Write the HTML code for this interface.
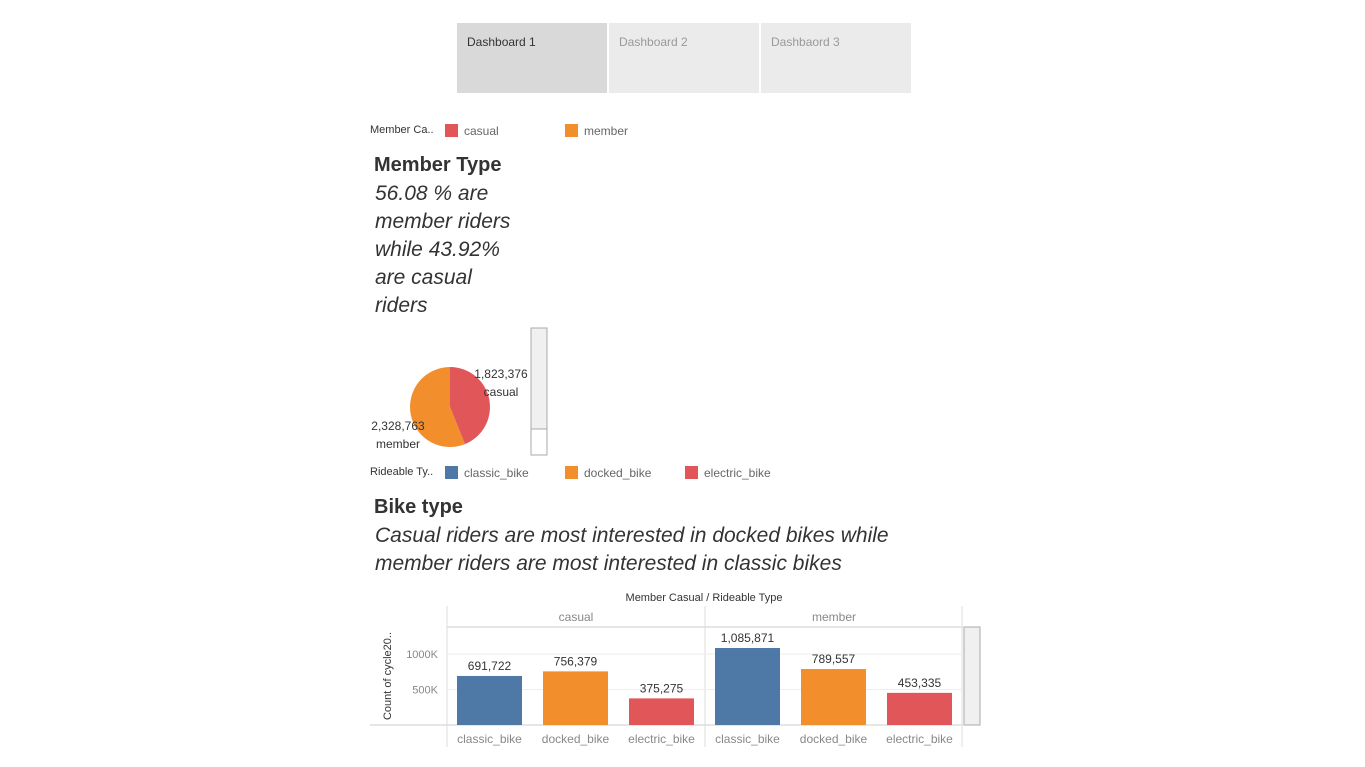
<!DOCTYPE html>
<html><head><meta charset="utf-8"><style>
body{margin:0;width:1365px;height:767px;background:#fff;font-family:"Liberation Sans",sans-serif;position:relative;overflow:hidden}
.a{position:absolute;white-space:nowrap}
.tab{position:absolute;top:23px;width:150px;height:70px;background:#ebebeb;color:#999;font-size:12px;box-sizing:border-box;padding:12px 10px}
.sw{position:absolute;width:13px;height:13px}
.lg{font-size:12px;color:#666}
.it{font-style:italic;font-size:21px;color:#333;line-height:28px}
</style></head><body>
<div class="tab" style="left:457px;background:#d9d9d9;color:#333">Dashboard 1</div>
<div class="tab" style="left:609px">Dashboard 2</div>
<div class="tab" style="left:761px">Dashbaord 3</div>

<div class="a lg" style="left:370px;top:124px;color:#333;font-size:11px">Member Ca..</div>
<div class="sw" style="left:445px;top:124px;background:#e15759"></div>
<div class="a lg" style="left:464px;top:124px">casual</div>
<div class="sw" style="left:565px;top:124px;background:#f28e2b"></div>
<div class="a lg" style="left:584px;top:124px">member</div>

<div class="a" style="left:374px;top:154px;font-size:20px;font-weight:bold;color:#333">Member Type</div>
<div class="a it" style="left:375px;top:180px">56.08 % are<br>member riders<br>while 43.92%<br>are casual<br>riders</div>

<div class="a lg" style="left:370px;top:466px;color:#333;font-size:11px">Rideable Ty..</div>
<div class="sw" style="left:445px;top:466px;background:#4e79a7"></div>
<div class="a lg" style="left:464px;top:466px">classic_bike</div>
<div class="sw" style="left:565px;top:466px;background:#f28e2b"></div>
<div class="a lg" style="left:584px;top:466px">docked_bike</div>
<div class="sw" style="left:685px;top:466px;background:#e15759"></div>
<div class="a lg" style="left:704px;top:466px">electric_bike</div>

<div class="a" style="left:374px;top:496px;font-size:20px;font-weight:bold;color:#333">Bike type</div>
<div class="a it" style="left:375px;top:522px">Casual riders are most interested in docked bikes while<br>member riders are most interested in classic bikes</div>

<svg id="pie" class="a" style="left:0;top:0" width="1365" height="767">
<rect x="531" y="328" width="16" height="127" fill="#f0f0f0" stroke="#aaa"/>
<line x1="531" y1="429" x2="547" y2="429" stroke="#aaa"/>
<rect x="531" y="429" width="16" height="26" fill="#fff" stroke="#aaa"/>
</svg>
<svg id="bars" class="a" style="left:0;top:0" width="1365" height="767" font-family="Liberation Sans, sans-serif">
<rect x="964" y="627" width="16" height="98" fill="#f0f0f0" stroke="#aaa"/>
</svg>
<script>
const NS='http://www.w3.org/2000/svg';
function mk(p,t,a){const e=document.createElementNS(NS,t);for(const k in a)e.setAttribute(k,a[k]);p.appendChild(e);return e;}
// pie data
const pieLabels=['casual','member'];
const pieValues=[1823376,2328763];
const pieColors=['#e15759','#f28e2b'];
const pie=document.getElementById('pie');
const cx=450,cy=407,r=40;
const tot=pieValues.reduce((a,b)=>a+b,0);
let ang=0;
pieValues.forEach((v,i)=>{
  const a0=ang,a1=ang+v/tot*2*Math.PI;ang=a1;
  const x0=cx+r*Math.sin(a0),y0=cy-r*Math.cos(a0),x1=cx+r*Math.sin(a1),y1=cy-r*Math.cos(a1);
  const p=mk(pie,'path',{d:`M${cx},${cy}L${x0},${y0}A${r},${r} 0 ${a1-a0>Math.PI?1:0} 1 ${x1},${y1}Z`,fill:pieColors[i]});
  
  
});
const pl=[[501,378,501,396],[398,430,398,448]];
pieValues.forEach((v,i)=>{
  const t=mk(pie,'text',{x:pl[i][0],y:pl[i][1],'text-anchor':'middle','font-size':12,fill:'#333'});t.textContent=v.toLocaleString('en-US');
  
  
  const t2=mk(pie,'text',{x:pl[i][2],y:pl[i][3],'text-anchor':'middle','font-size':12,fill:'#333'});t2.textContent=pieLabels[i];
  
  
});
// bar data
const groups=['casual','member'];
const bikeTypes=['classic_bike','docked_bike','electric_bike'];
const casualValues=[691722,756379,375275];
const memberValues=[1085871,789557,453335];
const yTicks=[500000,1000000];
const yTickLabels=['500K','1000K'];
const barColors=['#4e79a7','#f28e2b','#e15759'];
const svg=document.getElementById('bars');
const base=725,left=447,pw=258;
const y=v=>base-v*0.0000709;
const series=[casualValues,memberValues];
mk(svg,'line',{x1:370,y1:base,x2:963,y2:base,stroke:'#ccc'});
mk(svg,'line',{x1:447,y1:627,x2:963,y2:627,stroke:'#ccc'});
[447,705,962].forEach(x=>mk(svg,'line',{x1:x,y1:606,x2:x,y2:747,stroke:'#ddd'}));
yTicks.forEach((v,i)=>{
  mk(svg,'line',{x1:447,y1:y(v),x2:962,y2:y(v),stroke:'#eee'});
  const t=mk(svg,'text',{x:438,y:y(v)+4,'text-anchor':'end','font-size':11,fill:'#888'});t.textContent=yTickLabels[i];
  
  
});
let t=mk(svg,'text',{x:0,y:0,transform:'translate(391,676) rotate(-90)','text-anchor':'middle','font-size':11,fill:'#333'});t.textContent='Count of cycle20..';


t=mk(svg,'text',{x:704,y:601,'text-anchor':'middle','font-size':11,fill:'#333'});t.textContent='Member Casual  /  Rideable Type';


groups.forEach((g,gi)=>{
  const px=left+gi*pw;
  let h=mk(svg,'text',{x:px+pw/2,y:621,'text-anchor':'middle','font-size':12,fill:'#888'});h.textContent=g;
  
  
  bikeTypes.forEach((b,bi)=>{
    const v=series[gi][bi];const bx=px+10+bi*86;
    const r=mk(svg,'rect',{x:bx,y:y(v),width:65,height:base-y(v),fill:barColors[bi]});
    
    
    const l=mk(svg,'text',{x:bx+32.5,y:y(v)-6,'text-anchor':'middle','font-size':12,fill:'#333'});l.textContent=v.toLocaleString('en-US');
    
    
    const c=mk(svg,'text',{x:bx+32.5,y:743,'text-anchor':'middle','font-size':12,fill:'#888'});c.textContent=b;
    
    
  });
});
</script>
</body></html>
